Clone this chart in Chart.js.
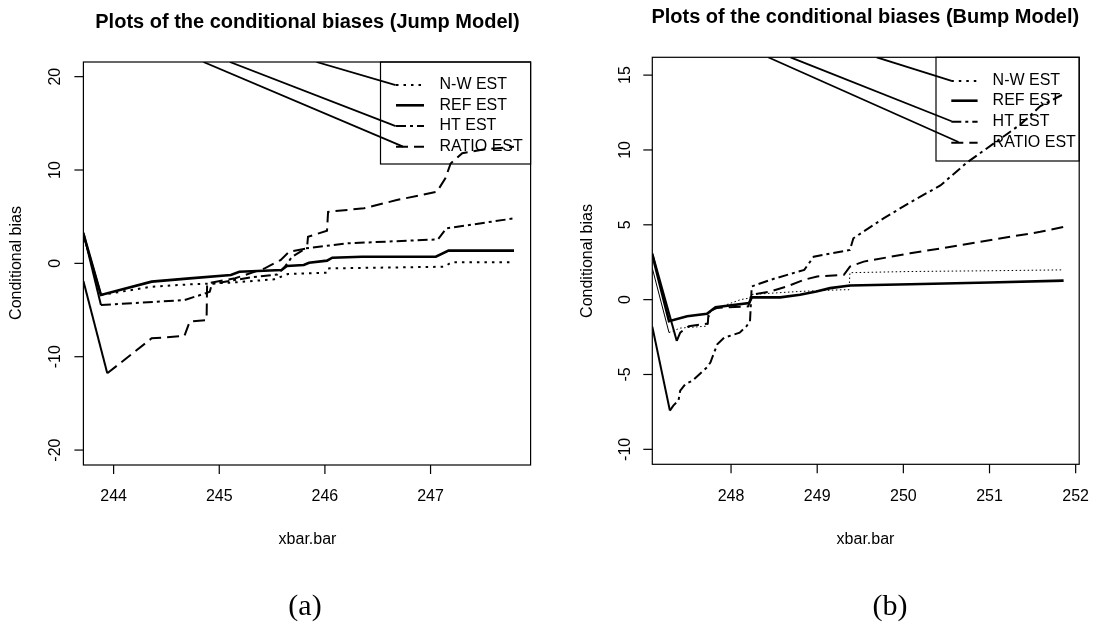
<!DOCTYPE html>
<html>
<head>
<meta charset="utf-8">
<script src="https://cdn.jsdelivr.net/npm/chart.js@4.4.1/dist/chart.umd.min.js"></script>
<style>
    html, body { margin: 0; padding: 0; background: #fff; }
    #wrap { position: relative; width: 1095px; height: 625px; overflow: hidden; }
    canvas { position: absolute; top: 0; }
    #chart-jump { left: 0; }
    #chart-bump { left: 545px; }
</style>
</head>
<body>
<div id="wrap">
    <canvas id="chart-jump" width="545" height="625"></canvas>
    <canvas id="chart-bump" width="550" height="625"></canvas>
</div>
<script>
// =================================================================
// Conditional bias plots - (a) Jump Model, (b) Bump Model
// =================================================================

// --- Panel (a): Jump Model ---
const jumpXTicks = [244, 245, 246, 247];
const jumpYTicks = [-20, -10, 0, 10, 20];

const jumpRefX = [243.714, 243.88, 244.36, 244.72, 245.11, 245.19, 245.59, 245.64, 245.80, 245.85, 246.02, 246.07, 246.35, 247.05, 247.17, 247.79];
const jumpRefY = [3.2, -3.39, -1.96, -1.61, -1.25, -0.89, -0.71, -0.29, -0.18, 0.07, 0.29, 0.61, 0.71, 0.71, 1.36, 1.36];

const jumpNwX = [243.714, 243.88, 244.36, 244.72, 245.11, 245.52, 245.65, 246.02, 246.03, 247.13, 247.20, 247.79];
const jumpNwY = [3.1, -3.39, -2.5, -2.25, -2.07, -1.71, -1.14, -1.0, -0.54, -0.36, 0.11, 0.11];

const jumpHtX = [243.714, 243.88, 244.67, 244.87, 244.91, 244.93, 245.3, 245.55, 245.62, 245.69, 245.82, 246.21, 247.07, 247.15, 247.79];
const jumpHtY = [3.3, -4.46, -3.93, -3.21, -3.04, -2.2, -1.5, -1.2, -0.36, 0.71, 1.61, 2.14, 2.57, 3.75, 4.82];

const jumpRatioX = [243.714, 243.94, 244.36, 244.67, 244.72, 244.88, 244.885, 245.15, 245.43, 245.58, 245.66, 245.83, 245.84, 246.02, 246.03, 246.37, 246.68, 247.06, 247.14, 247.19, 247.3, 247.5, 247.79];
const jumpRatioY = [-1.9, -11.78, -8.03, -7.78, -6.25, -6.07, -2.14, -1.6, -0.54, 0.35, 1.24, 1.6, 2.85, 3.49, 5.52, 5.9, 6.78, 7.67, 9.1, 10.7, 11.8, 12.2, 12.5];

// stray leader lines running from the top edge into the legend
const jumpLeadNwX = [245.92, 246.67];
const jumpLeadNwY = [21.57, 19.1];
const jumpLeadHtX = [245.10, 246.67];
const jumpLeadHtY = [21.57, 14.7];
const jumpLeadRatioX = [244.85, 246.74];
const jumpLeadRatioY = [21.57, 12.5];

// --- Panel (b): Bump Model ---
const bumpXTicks = [248, 249, 250, 251, 252];
const bumpYTicks = [-10, -5, 0, 5, 10, 15];

const bumpRefX = [247.086, 247.28, 247.49, 247.72, 247.82, 248.21, 248.24, 248.57, 248.8, 248.99, 249.15, 249.38, 250.08, 251.0, 251.86];
const bumpRefY = [3.0, -1.44, -1.11, -0.95, -0.51, -0.22, 0.15, 0.15, 0.33, 0.55, 0.77, 0.95, 1.03, 1.15, 1.27];

const bumpNwX = [247.086, 247.28, 247.41, 247.72, 247.76, 247.84, 248.11, 248.21, 248.24, 248.8, 249.29, 249.37, 249.38, 250.08, 251.0, 251.86];
const bumpNwY = [2.1, -2.2, -1.9, -1.77, -0.78, -0.56, 0.0, 0.1, 0.35, 0.55, 0.66, 0.66, 1.8, 1.88, 1.93, 1.99];

const bumpHtX = [247.086, 247.29, 247.33, 247.39, 247.41, 247.47, 247.55, 247.72, 247.76, 247.84, 247.92, 248.1, 248.18, 248.22, 248.24, 248.46, 248.85, 248.96, 249.38, 249.42, 249.77, 250.08, 250.43, 250.74, 251.2, 251.36, 251.59, 251.85];
const bumpHtY = [-1.8, -7.41, -7.08, -6.74, -6.08, -5.64, -5.42, -4.53, -4.2, -2.99, -2.54, -2.21, -1.77, -1.44, 0.88, 1.33, 1.99, 2.87, 3.32, 4.1, 5.43, 6.5, 7.63, 9.17, 11.05, 11.71, 12.93, 13.7];

const bumpRatioX = [247.086, 247.37, 247.41, 247.51, 247.73, 247.74, 247.84, 248.2, 248.24, 248.46, 248.65, 248.85, 249.0, 249.31, 249.38, 249.54, 250.08, 250.43, 251.0, 251.59, 251.86];
const bumpRatioY = [3.1, -2.76, -2.2, -1.77, -1.6, -0.78, -0.55, -0.45, 0.33, 0.55, 0.88, 1.33, 1.55, 1.66, 2.21, 2.54, 3.1, 3.42, 3.97, 4.53, 4.86];

const bumpLeadNwX = [249.69, 250.56];
const bumpLeadNwY = [16.19, 14.62];
const bumpLeadHtX = [248.69, 250.56];
const bumpLeadHtY = [16.19, 11.92];
const bumpLeadRatioX = [248.43, 250.64];
const bumpLeadRatioY = [16.19, 10.53];

const legendLabels = ['N-W EST', 'REF EST', 'HT EST', 'RATIO EST'];

// line styles (R lty look-alikes)
const DOT = [2.5, 5];
const DOTDASH = [10, 4, 3, 4];
const LONGDASH = [12, 6];
const SANS = '"Liberation Sans", Arial, sans-serif';

function toPoints(xs, ys) {
    return xs.map((v, i) => ({ x: v, y: ys[i] }));
}

// first segment of every curve comes in from outside the window as a plain solid line
function series(label, xs, ys, width, dash) {
    return {
        label: label,
        data: toPoints(xs, ys),
        borderColor: '#000',
        borderWidth: width,
        borderDash: dash,
        pointRadius: 0,
        fill: false,
        tension: 0,
        segment: { borderDash: c => (c.p0DataIndex === 0 ? [] : dash) }
    };
}

function leader(xs, ys) {
    return { label: '', data: toPoints(xs, ys), borderColor: '#000', borderWidth: 1.8, pointRadius: 0, fill: false };
}

// draws the R style frame: box, ticks, rotated y labels, titles, legend, caption
function makeFrame(cfg) {
    return {
        id: 'rFrame',
        afterDatasetsDraw(chart) {
            const { ctx, chartArea: a, scales: { x, y } } = chart;
            ctx.save();
            ctx.strokeStyle = '#000';
            ctx.fillStyle = '#000';
            ctx.lineWidth = 1.2;
            ctx.setLineDash([]);
            ctx.strokeRect(a.left, a.top, a.right - a.left, a.bottom - a.top);

            ctx.font = '16px ' + SANS;
            ctx.textAlign = 'center';
            ctx.textBaseline = 'middle';
            cfg.xTicks.forEach(v => {
                const px = x.getPixelForValue(v);
                ctx.beginPath(); ctx.moveTo(px, a.bottom); ctx.lineTo(px, a.bottom + 9); ctx.stroke();
                ctx.fillText(String(v), px, cfg.xTickY);
            });
            cfg.yTicks.forEach(v => {
                const py = y.getPixelForValue(v);
                ctx.beginPath(); ctx.moveTo(a.left, py); ctx.lineTo(a.left - 9, py); ctx.stroke();
                ctx.save();
                ctx.translate(cfg.yTickX, py);
                ctx.rotate(-Math.PI / 2);
                ctx.fillText(String(v), 0, 0);
                ctx.restore();
            });

            // axis titles
            ctx.fillText('xbar.bar', cfg.xLabelX, cfg.xLabelY);
            ctx.save();
            ctx.translate(cfg.yLabelX, cfg.yLabelY);
            ctx.rotate(-Math.PI / 2);
            ctx.fillText('Conditional bias', 0, 0);
            ctx.restore();

            ctx.font = 'bold 20px ' + SANS;
            ctx.fillText(cfg.title, cfg.titleX, cfg.titleY);

            ctx.font = '30px "Liberation Serif", "Times New Roman", serif';
            ctx.fillText(cfg.caption, cfg.captionX, cfg.captionY);

            // legend (transparent, like R's default bg)
            ctx.lineWidth = 1.2;
            ctx.strokeRect(cfg.legendLeft, a.top, a.right - cfg.legendLeft, cfg.legendBottom - a.top);
            ctx.font = '16px ' + SANS;
            ctx.textAlign = 'left';
            cfg.legendRows.forEach((ry, i) => {
                const s = cfg.samples[i];
                ctx.lineWidth = s.w;
                ctx.setLineDash(s.dash);
                ctx.beginPath(); ctx.moveTo(cfg.sampleX[0], ry); ctx.lineTo(cfg.sampleX[1], ry); ctx.stroke();
                ctx.setLineDash([]);
                ctx.fillText(legendLabels[i], cfg.textX, ry);
            });
            ctx.restore();
        }
    };
}

function makePanel(canvasId, datasets, range, pad, cfg) {
    return new Chart(document.getElementById(canvasId).getContext('2d'), {
        type: 'line',
        data: { datasets: datasets },
        options: {
            responsive: false,
            animation: false,
            devicePixelRatio: 1,
            layout: { padding: pad },
            plugins: { legend: { display: false }, tooltip: { enabled: false } },
            scales: {
                x: { type: 'linear', min: range[0], max: range[1], display: false },
                y: { type: 'linear', min: range[2], max: range[3], display: false }
            }
        },
        plugins: [makeFrame(cfg)]
    });
}

const legendSamples = [
    { w: 2, dash: DOT },
    { w: 2.6, dash: [] },
    { w: 2, dash: DOTDASH },
    { w: 2, dash: LONGDASH }
];

makePanel('chart-jump', [
    series('N-W EST', jumpNwX, jumpNwY, 2, DOT),
    series('REF EST', jumpRefX, jumpRefY, 2.6, []),
    series('HT EST', jumpHtX, jumpHtY, 2, DOTDASH),
    series('RATIO EST', jumpRatioX, jumpRatioY, 2, LONGDASH),
    leader(jumpLeadNwX, jumpLeadNwY),
    leader(jumpLeadHtX, jumpLeadHtY),
    leader(jumpLeadRatioX, jumpLeadRatioY)
], [243.714, 247.947, -21.6, 21.57], { left: 83.4, top: 62, right: 14.4, bottom: 160 }, {
    xTicks: jumpXTicks, yTicks: jumpYTicks,
    xTickY: 497, yTickX: 56,
    xLabelX: 307.5, xLabelY: 540, yLabelX: 17, yLabelY: 263,
    title: 'Plots of the conditional biases (Jump Model)', titleX: 307.5, titleY: 22,
    caption: '(a)', captionX: 305, captionY: 607,
    legendLeft: 380.5, legendBottom: 164,
    legendRows: [85, 105.3, 126, 146.7], sampleX: [396, 424], textX: 439.5,
    samples: legendSamples
});

makePanel('chart-bump', [
    series('N-W EST', bumpNwX, bumpNwY, 1, [1.5, 2.5]),
    series('REF EST', bumpRefX, bumpRefY, 2.6, []),
    series('HT EST', bumpHtX, bumpHtY, 2, DOTDASH),
    series('RATIO EST', bumpRatioX, bumpRatioY, 2, LONGDASH),
    leader(bumpLeadNwX, bumpLeadNwY),
    leader(bumpLeadHtX, bumpLeadHtY),
    leader(bumpLeadRatioX, bumpLeadRatioY)
], [247.086, 252.041, -11.0, 16.19], { left: 107.3, top: 57.3, right: 15.8, bottom: 160.7 }, {
    xTicks: bumpXTicks, yTicks: bumpYTicks,
    xTickY: 497, yTickX: 80.6,
    xLabelX: 320.5, xLabelY: 540, yLabelX: 43, yLabelY: 261,
    title: 'Plots of the conditional biases (Bump Model)', titleX: 320.3, titleY: 17.3,
    caption: '(b)', captionX: 345, captionY: 607,
    legendLeft: 391, legendBottom: 161,
    legendRows: [81, 100.7, 121.7, 142.7], sampleX: [406.3, 432.6], textX: 447.6,
    samples: legendSamples
});
</script>
</body>
</html>
